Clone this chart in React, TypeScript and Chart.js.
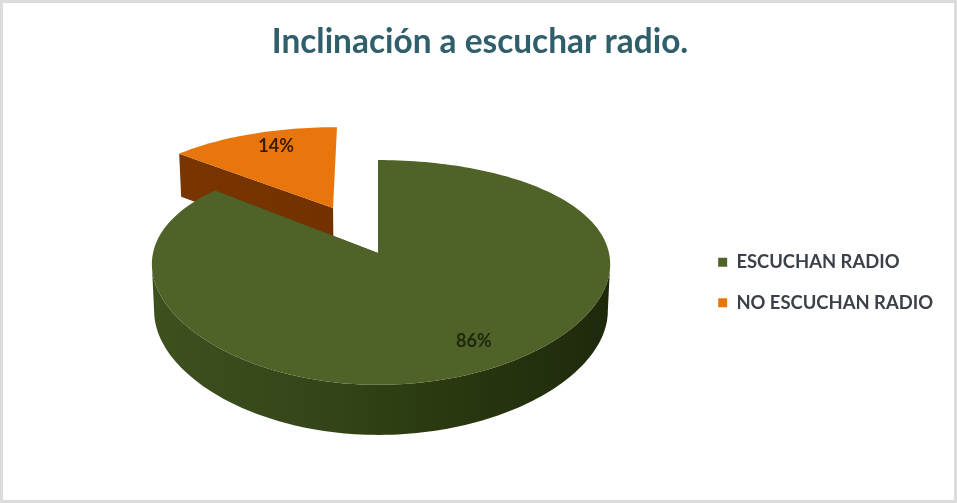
import { useEffect, useRef } from "react";
import { Chart, registerables, ArcElement, PieController } from "chart.js";

Chart.register(...registerables);

const categories = ["ESCUCHAN RADIO", "NO ESCUCHAN RADIO"];
const shares = [86, 14];
const topColors = ["#4f6228", "#e8760c"];
const sideColors = [
  ["#3d501e", "#35471a", "#29380f", "#1e290c"],
  ["#7a3600", "#743200", "#6c2e00", "#662a00"],
];
const explodeAmounts = [0, 0.49];
const labelRadii = [0.806, 0.795];
const labelSweeps = [0.489, 0.564];

// Tilted-disc projection: unit-circle coordinates (u to the right, v towards the viewer)
// are mapped to the canvas with a mild perspective foreshortening.
const disc = {
  cx: 378,
  cy: 253,
  spanLeft: 225,
  spanRight: 231,
  spanY: 109,
  tiltX: 0.1,
  tiltY: 0.1733,
  depth: 46.4,
  depthTilt: 0.0726,
  baseShrink: 0.99,
};

function project(u: number, v: number, base = false) {
  const span = u < 0 ? disc.spanLeft : disc.spanRight;
  let x = (span * u) / (1 - disc.tiltX * v);
  let y = disc.cy + (disc.spanY * v) / (1 - disc.tiltY * v);
  if (base) {
    x *= disc.baseShrink;
    y += disc.depth / (1 - disc.depthTilt * v);
  }
  return { x: disc.cx + x, y };
}

function tracePolygon(ctx: CanvasRenderingContext2D, pts: { x: number; y: number }[]) {
  ctx.beginPath();
  pts.forEach((p, k) => (k ? ctx.lineTo(p.x, p.y) : ctx.moveTo(p.x, p.y)));
  ctx.closePath();
}

class Arc3D extends ArcElement {
  static id = "arc3d";

  draw(ctx: CanvasRenderingContext2D) {
    const { startAngle, endAngle } = this as any;
    const index = (this as any).$context?.dataIndex ?? 0;
    const opts = (this as any).options;
    const ox = Math.cos((startAngle + endAngle) / 2) * opts.offset;
    const oy = Math.sin((startAngle + endAngle) / 2) * opts.offset;

    const rim: [number, number][] = [];
    const steps = Math.ceil((endAngle - startAngle) * 40);
    for (let i = 0; i <= steps; i++) {
      const a = startAngle + ((endAngle - startAngle) * i) / steps;
      rim.push([ox + Math.cos(a), oy + Math.sin(a)]);
    }

    const wall = ctx.createLinearGradient(disc.cx - disc.spanLeft, 0, disc.cx + disc.spanRight, 0);
    const stops = sideColors[index];
    stops.forEach((c, i) => wall.addColorStop(i / (stops.length - 1), c));

    ctx.save();
    ctx.fillStyle = wall;

    // Curved outer wall: only the run of the rim that faces the viewer (it travels leftwards).
    const front = rim.filter(([u, v], i) => {
      const next = rim[i + 1] ?? rim[i];
      const prev = rim[i - 1] ?? rim[i];
      return project(next[0], next[1]).x < project(u, v).x || project(u, v).x < project(prev[0], prev[1]).x;
    });
    if (front.length > 1) {
      tracePolygon(ctx, [
        ...front.map(([u, v]) => project(u, v)),
        ...front.slice().reverse().map(([u, v]) => project(u, v, true)),
      ]);
      ctx.fill();
    }

    // Straight walls along the two cut edges; those seen edge-on are left out.
    const apex: [number, number] = [ox, oy];
    [rim[0], rim[rim.length - 1]].forEach(([u, v]) => {
      const a = project(apex[0], apex[1]);
      const b = project(u, v);
      if (Math.abs(b.x - a.x) < Math.abs(b.y - a.y) / 4) return;
      tracePolygon(ctx, [a, b, project(u, v, true), project(apex[0], apex[1], true)]);
      ctx.fill();
    });

    // Top face of the slice.
    tracePolygon(ctx, [apex, ...rim].map(([u, v]) => project(u, v)));
    ctx.fillStyle = opts.backgroundColor;
    ctx.fill();
    ctx.restore();
  }
}

class Pie3DController extends PieController {
  static id = "pie3d";
  static defaults = { ...PieController.defaults, dataElementType: "arc3d" };

  // The last slice sits behind the first one, so paint back to front.
  draw() {
    const meta = (this as any)._cachedMeta;
    const ctx = (this as any)._ctx;
    const area = (this as any).chart.chartArea;
    for (let i = meta.data.length - 1; i >= 0; i--) meta.data[i].draw(ctx, area);
  }
}

Chart.register(Arc3D, Pie3DController);

const sliceLabels = {
  id: "sliceLabels",
  afterDatasetsDraw(chart: Chart) {
    const { ctx } = chart;
    const meta = chart.getDatasetMeta(0);
    ctx.save();
    ctx.font = "bold 18px Lato";
    ctx.textAlign = "center";
    ctx.textBaseline = "middle";
    meta.data.forEach((arc: any, i: number) => {
      const mid = (arc.startAngle + arc.endAngle) / 2;
      const angle = arc.startAngle + (arc.endAngle - arc.startAngle) * labelSweeps[i];
      const p = project(
        Math.cos(mid) * explodeAmounts[i] + Math.cos(angle) * labelRadii[i],
        Math.sin(mid) * explodeAmounts[i] + Math.sin(angle) * labelRadii[i],
      );
      ctx.fillStyle = i === 0 ? "#1d280d" : "#3b1b02";
      ctx.fillText(`${shares[i]}%`, p.x, p.y);
    });
    ctx.restore();
  },
};

const frame = {
  id: "frame",
  beforeDraw(chart: Chart) {
    const { ctx, width, height } = chart;
    ctx.save();
    ctx.fillStyle = "#ffffff";
    ctx.fillRect(0, 0, width, height);
    ctx.strokeStyle = "#dcdcdc";
    ctx.lineWidth = 3;
    ctx.strokeRect(1.5, 1.5, width - 3, height - 3);
    ctx.restore();
  },
};

export default function App() {
  const canvasRef = useRef<HTMLCanvasElement>(null);

  useEffect(() => {
    const chart = new Chart(canvasRef.current!, {
      type: "pie3d" as any,
      data: {
        labels: categories,
        datasets: [
          {
            data: shares,
            backgroundColor: topColors,
            borderWidth: 0,
            offset: explodeAmounts,
          } as any,
        ],
      },
      options: {
        responsive: false,
        animation: false,
        layout: { padding: { bottom: 14, right: 14, left: 17 } },
        plugins: {
          title: {
            display: true,
            text: "Inclinación a escuchar radio.",
            color: "#2f5f6b",
            font: { family: "Lato", size: 33.4, weight: "bold" },
            padding: { top: 22, bottom: 14 },
          },
          legend: {
            position: "right",
            fullSize: false,
            labels: {
              boxWidth: 9,
              boxHeight: 9,
              padding: 22,
              color: "#3c4048",
              font: { family: "Lato", size: 18.4, weight: "bold" },
            },
          },
          tooltip: { enabled: false },
        },
      } as any,
      plugins: [frame, sliceLabels],
    });
    return () => chart.destroy();
  }, []);

  return (
    <div style={{ position: "fixed", left: 0, top: 0, width: 957, height: 503 }}>
      <canvas ref={canvasRef} width={957} height={503} style={{ display: "block" }} />
    </div>
  );
}
